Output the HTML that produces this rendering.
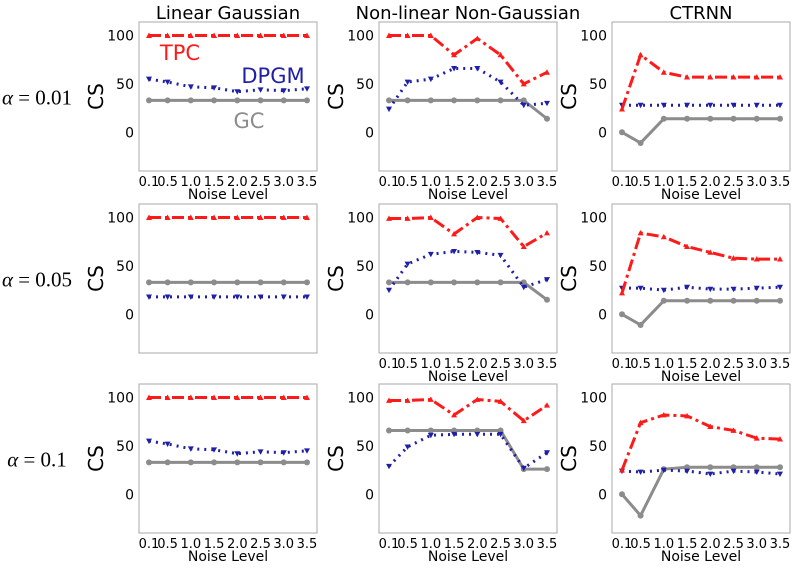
<!DOCTYPE html>
<html><head><meta charset="utf-8"><style>
body{margin:0;background:#fff;}
svg{display:block;font-family:"DejaVu Sans","Liberation Sans",sans-serif;}
</style></head><body>
<svg id="fig" width="800" height="572" viewBox="0 0 800 572"></svg>
<script>
const noise=[0.1,0.5,1.0,1.5,2.0,2.5,3.0,3.5];
const xTickLabels=["0.1","0.5","1.0","1.5","2.0","2.5","3.0","3.5"];
const yTicks=[0,50,100];
const colTitles=["Linear Gaussian","Non-linear Non-Gaussian","CTRNN"];
const rowLabels=["α = 0.01","α = 0.05","α = 0.1"];
// [row][col]
const tpc=[
 [[100,100,100,100,100,100,100,100],[100,100,100,80,97,80,50,62],[24,80,62,57,57,57,57,57]],
 [[100,100,100,100,100,100,100,100],[99,99,100,83,100,99,70,84],[22,84,80,70,64,58,57,57]],
 [[100,100,100,100,100,100,100,100],[97,97,98,82,98,96,76,92],[25,74,82,81,70,66,58,57]]];
const dpgm=[
 [[55,52,47,46,42,44,43,45],[24,52,55,66,66,52,28,30],[28,28,28,28,28,28,28,28]],
 [[18,18,18,18,18,18,18,18],[25,52,62,65,64,61,28,36],[27,27,25,28,26,26,27,28]],
 [[55,52,47,46,42,44,43,45],[29,49,61,62,62,62,27,43],[24,23,25,24,21,24,23,21]]];
const gc=[
 [[33,33,33,33,33,33,33,33],[33,33,33,33,33,33,33,14],[0,-11,14,14,14,14,14,14]],
 [[33,33,33,33,33,33,33,33],[33,33,33,33,33,33,33,15],[0,-11,14,14,14,14,14,14]],
 [[33,33,33,33,33,33,33,33],[66,66,66,66,66,66,26,26],[0,-22,26,28,28,28,28,28]]];

const NS="http://www.w3.org/2000/svg";
const svg=document.getElementById('fig');
function mk(tag,attrs,parent){const e=document.createElementNS(NS,tag);for(const k in attrs)e.setAttribute(k,attrs[k]);(parent||svg).appendChild(e);return e;}
const colX=[139,379,612],rowY=[22,204,384],W=178,H=149,YMIN=-40,YMAX=114;

colTitles.forEach((t,c)=>{const e=mk('text',{x:colX[c]+W/2,y:19,'text-anchor':'middle','font-size':18});e.textContent=t;

});
rowLabels.forEach((t,r)=>{const e=mk('text',{x:37,y:rowY[r]+H/2+8,'text-anchor':'middle','font-size':21,'font-family':'"Liberation Serif",serif'});
e.innerHTML='<tspan font-style="italic">α</tspan> = '+t.split('= ')[1];

});

function tri(x,y,up,s){return up?`M${x},${y-s}L${x+s},${y+s*0.8}L${x-s},${y+s*0.8}Z`:`M${x},${y+s}L${x+s},${y-s*0.8}L${x-s},${y-s*0.8}Z`;}

for(let r=0;r<3;r++)for(let c=0;c<3;c++){
 const x0=colX[c],y0=rowY[r];
 const g=mk('g',{});
 
 
 const sx=v=>x0+10+(v-0.1)/(3.4)*(W-20);
 const sy=v=>y0+(YMAX-v)/(YMAX-YMIN)*H;
 const box=mk('rect',{x:x0,y:y0,width:W,height:H,fill:'none',stroke:'#aaa','stroke-width':1},g);
 
 
 yTicks.forEach(v=>{const t=mk('text',{x:x0-5,y:sy(v)+5,'text-anchor':'end','font-size':14},g);t.textContent=v;
 
 });
 const yl=mk('text',{x:0,y:0,'text-anchor':'middle','font-size':20,transform:`translate(${x0-36},${y0+H/2}) rotate(-90)`},g);yl.textContent='CS';
 
 
 if(!(r==1&&c==0)){
  noise.forEach((v,i)=>{const t=mk('text',{x:sx(v),y:y0+H+15,'text-anchor':'middle','font-size':13},g);t.textContent=xTickLabels[i];
  
  });
  const xl=mk('text',{x:x0+W/2,y:y0+H+28,'text-anchor':'middle','font-size':14},g);xl.textContent='Noise Level';
  
  
 }
 const series=[
  {d:gc[r][c],col:'#8c8c8c',dash:'',m:'o',name:'gc-line'},
  {d:dpgm[r][c],col:'#1f1fa8',dash:'2,5',m:'v',name:'dpgm-line'},
  {d:tpc[r][c],col:'#ff1a1a',dash:'12,4,3,4',m:'^',name:'tpc-line'}];
 series.forEach(s=>{
  const pts=s.d.map((v,i)=>sx(noise[i])+','+sy(v)).join(' ');
  const pl=mk('polyline',{points:pts,fill:'none',stroke:s.col,'stroke-width':3,'stroke-dasharray':s.dash},g);
  
  
  s.d.forEach((v,i)=>{const X=sx(noise[i]),Y=sy(v);let m;
   if(s.m=='o')m=mk('circle',{cx:X,cy:Y,r:3,fill:s.col},g);
   else m=mk('path',{d:tri(X,Y,s.m=='^',3),fill:s.col},g);
   
   });
 });
}
[['TPC',180,60,'#ff1a1a'],['DPGM',273,83,'#1f1fa8'],['GC',249,128,'#8c8c8c']].forEach(l=>{
 const t=mk('text',{x:l[1],y:l[2],'text-anchor':'middle','font-size':21,fill:l[3]});t.textContent=l[0];
 
 });
</script>
</body></html>
